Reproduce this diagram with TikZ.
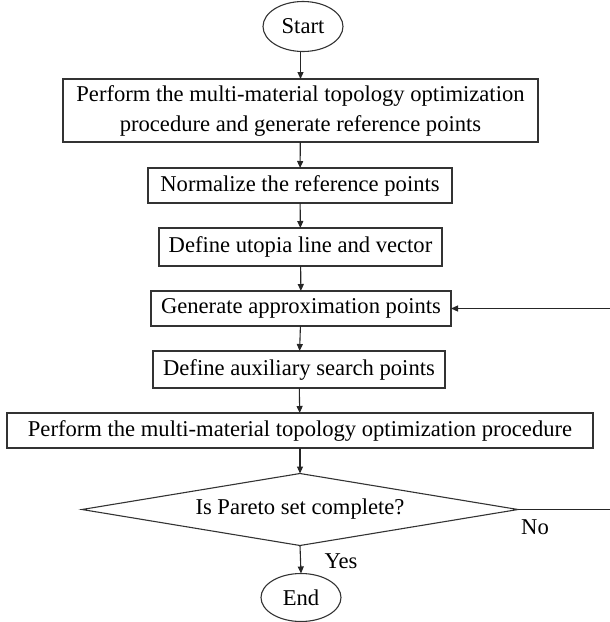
\documentclass[tikz,border=0pt]{standalone}
\usepackage{fontspec}
\setmainfont{Liberation Serif}
\usetikzlibrary{shapes.geometric,arrows.meta}
\begin{document}
\begin{tikzpicture}[x=1pt,y=-1pt,
  font=\fontsize{22.6}{30}\selectfont,
  line width=1.1pt,
  every node/.style={inner sep=0pt,outer sep=0pt},
  procbox/.style={draw=black!80,rectangle,align=center},
  term/.style={draw=black!80,ellipse},
  decision/.style={draw=black!80,diamond},
  flow/.style={draw=black!85,-{Triangle[length=7pt,width=6pt]}}]
\useasboundingbox (0,0) rectangle (610,622);
\node[term,minimum width=80pt,minimum height=50pt] (start) at (303,26.5) {Start};
\node[procbox,minimum width=475pt,minimum height=63pt] (b1) at (300.5,110.5)
  {Perform the multi-material topology optimization\\procedure and generate reference points};
\node[procbox,minimum width=304pt,minimum height=35pt] (b2) at (300,185.5) {Normalize the reference points};
\node[procbox,minimum width=283pt,minimum height=38pt] (b3) at (300.5,247) {Define utopia line and vector};
\node[procbox,minimum width=300pt,minimum height=35pt] (b4) at (301,308.5) {Generate approximation points};
\node[procbox,minimum width=292pt,minimum height=37pt] (b5) at (299,369.5) {Define auxiliary search points};
\node[procbox,minimum width=586pt,minimum height=35pt] (b6) at (300,430.5) {Perform the multi-material topology optimization procedure};
\node[decision,minimum width=436pt,minimum height=72pt] (d) at (300,509.5) {};
\node (dtext) at (300,509.5) {Is Pareto set complete?};
\node[term,minimum width=80pt,minimum height=48pt] (end) at (301,597.5) {End};
\node (yes) at (341,561) {Yes};
\node (no) at (535,527) {No};
\coordinate (loopx) at (613,0);
\draw[flow] (start.south -| b1.north) -- (b1.north);
\draw[flow] (b1) -- (b2);
\draw[flow] (b2) -- (b3);
\draw[flow] (b3) -- (b4);
\draw[flow] (b4) -- (b5);
\draw[flow] (b5) -- (b6);
\draw[flow] (b6) -- (d);
\draw[flow] (d.south) -- (end.north);
\draw[flow] (d.east) -- (d.east -| loopx) |- (b4.east);
\end{tikzpicture}
\end{document}
